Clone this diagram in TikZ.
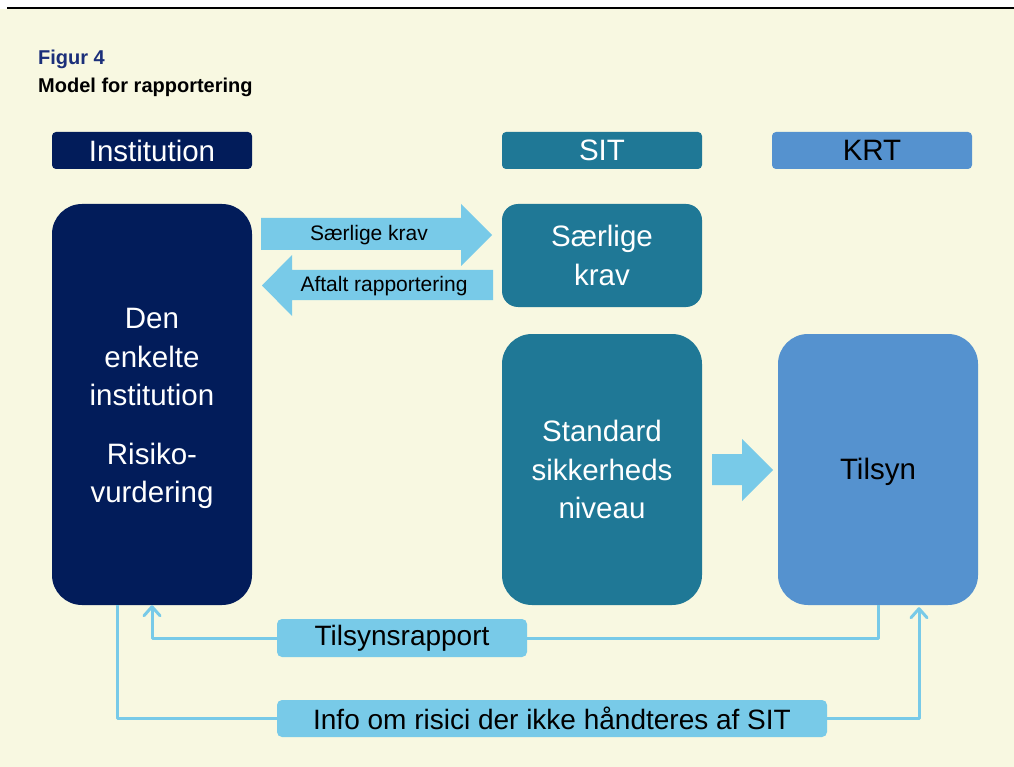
\documentclass[tikz,border=0pt]{standalone}
\usepackage{fontspec}
\setmainfont{Liberation Sans}
\usetikzlibrary{arrows.meta,calc}
\definecolor{navy}{RGB}{2,28,90}
\definecolor{sitteal}{RGB}{31,120,150}
\definecolor{krt}{RGB}{85,146,207}
\definecolor{lightblue}{RGB}{120,202,232}
\definecolor{beige}{RGB}{248,248,225}
\definecolor{titleblue}{RGB}{27,47,122}
\begin{document}
\begin{tikzpicture}[x=1pt,y=-1pt,
  hdr/.style={rectangle, rounded corners=4pt, minimum width=200pt, minimum height=37pt, inner sep=0pt, font=\fontsize{29.5}{35}\selectfont},
  big/.style={rectangle, rounded corners=30pt, minimum width=200pt, inner sep=0pt, align=center, font=\fontsize{29.5}{38.5}\selectfont},
  bigtext/.style={inner sep=0pt, align=center, font=\fontsize{29.5}{38.5}\selectfont},
  lbl/.style={fill=lightblue, rounded corners=5pt, inner sep=0pt, font=\fontsize{28}{32}\selectfont},
  alabel/.style={inner sep=0pt, font=\fontsize{21}{24}\selectfont},
  conn/.style={draw=lightblue, line width=3pt, line join=round},
  tip/.style={-{Straight Barb[length=9pt,width=16pt,round]}},
  blockarrow/.style={fill=lightblue}]
\useasboundingbox (0,0) rectangle (1014,767);
\fill[white] (0,0) rectangle (1014,767);
\fill[beige] (0,9) rectangle (1014,767);
\draw[black, line width=1.5pt] (7,8) -- (1014,8);

\node[anchor=base west, inner sep=0pt, font=\bfseries\fontsize{20}{23}\selectfont, text=titleblue] (fig) at (38,64.5) {Figur 4};
\node[anchor=base west, inner sep=0pt, font=\bfseries\fontsize{20}{23}\selectfont, text=black] (ttl) at (38,93) {Model for rapportering};

\node[hdr, fill=navy, text=white] (hinst) at (152,150.5) {Institution};
\node[hdr, fill=sitteal, text=white] (hsit) at (602,150.5) {SIT};
\node[hdr, fill=krt, text=black] (hkrt) at (872,150.5) {KRT};

\node[big, fill=navy, minimum height=401pt] (inst) at (152,404.5) {};
\node[bigtext, text=white] (insttext) at ($(inst.center)+(0,4)$) {Den\\enkelte\\institution\\[20pt]Risiko-\\vurdering};
\node[big, fill=sitteal, text=white, rounded corners=16pt, minimum height=103pt] (sk) at (602,255.5) {Særlige\\krav};
\node[big, fill=sitteal, text=white, minimum height=271pt] (std) at (602,469.5) {Standard\\sikkerheds\\niveau};
\node[big, fill=krt, minimum height=271pt] (tilsyn) at (878,469.5) {};
\node[bigtext, text=black] (tilsyntext) at ($(tilsyn.center)+(0,2)$) {Tilsyn};

% block arrows
\fill[blockarrow] (261,218) -- (461,218) -- (461,204) -- (492,235) -- (461,266) -- (461,250) -- (261,250) -- cycle;
\fill[blockarrow] (493,270) -- (292,270) -- (292,255) -- (262,285.5) -- (292,316) -- (292,300) -- (493,300) -- cycle;
\fill[blockarrow] (712,454) -- (742,454) -- (742,439) -- (773,470) -- (742,501) -- (742,485) -- (712,485) -- cycle;
\node[alabel] (lsk) at (369,235) {Særlige krav};
\node[alabel] (lar) at (384,286) {Aftalt rapportering};

% bottom labels
\node[lbl, minimum width=250pt, minimum height=38pt] (trap) at (402,638) {Tilsynsrapport};
\node[lbl, minimum width=550pt, minimum height=37pt] (info) at (552,718.5) {Info om risici der ikke håndteres af SIT};

% connectors
\coordinate (instout) at ($(inst.south west)+(66,0)$);
\coordinate (tilin) at ($(tilsyn.south)+(41,2)$);
\draw[conn] (tilsyn.south) |- (trap.east);
\draw[conn, tip] (trap.west) -| (inst.south);
\draw[conn] (instout) |- (info.west);
\draw[conn, tip] (info.east) -| (tilin);
\end{tikzpicture}
\end{document}
